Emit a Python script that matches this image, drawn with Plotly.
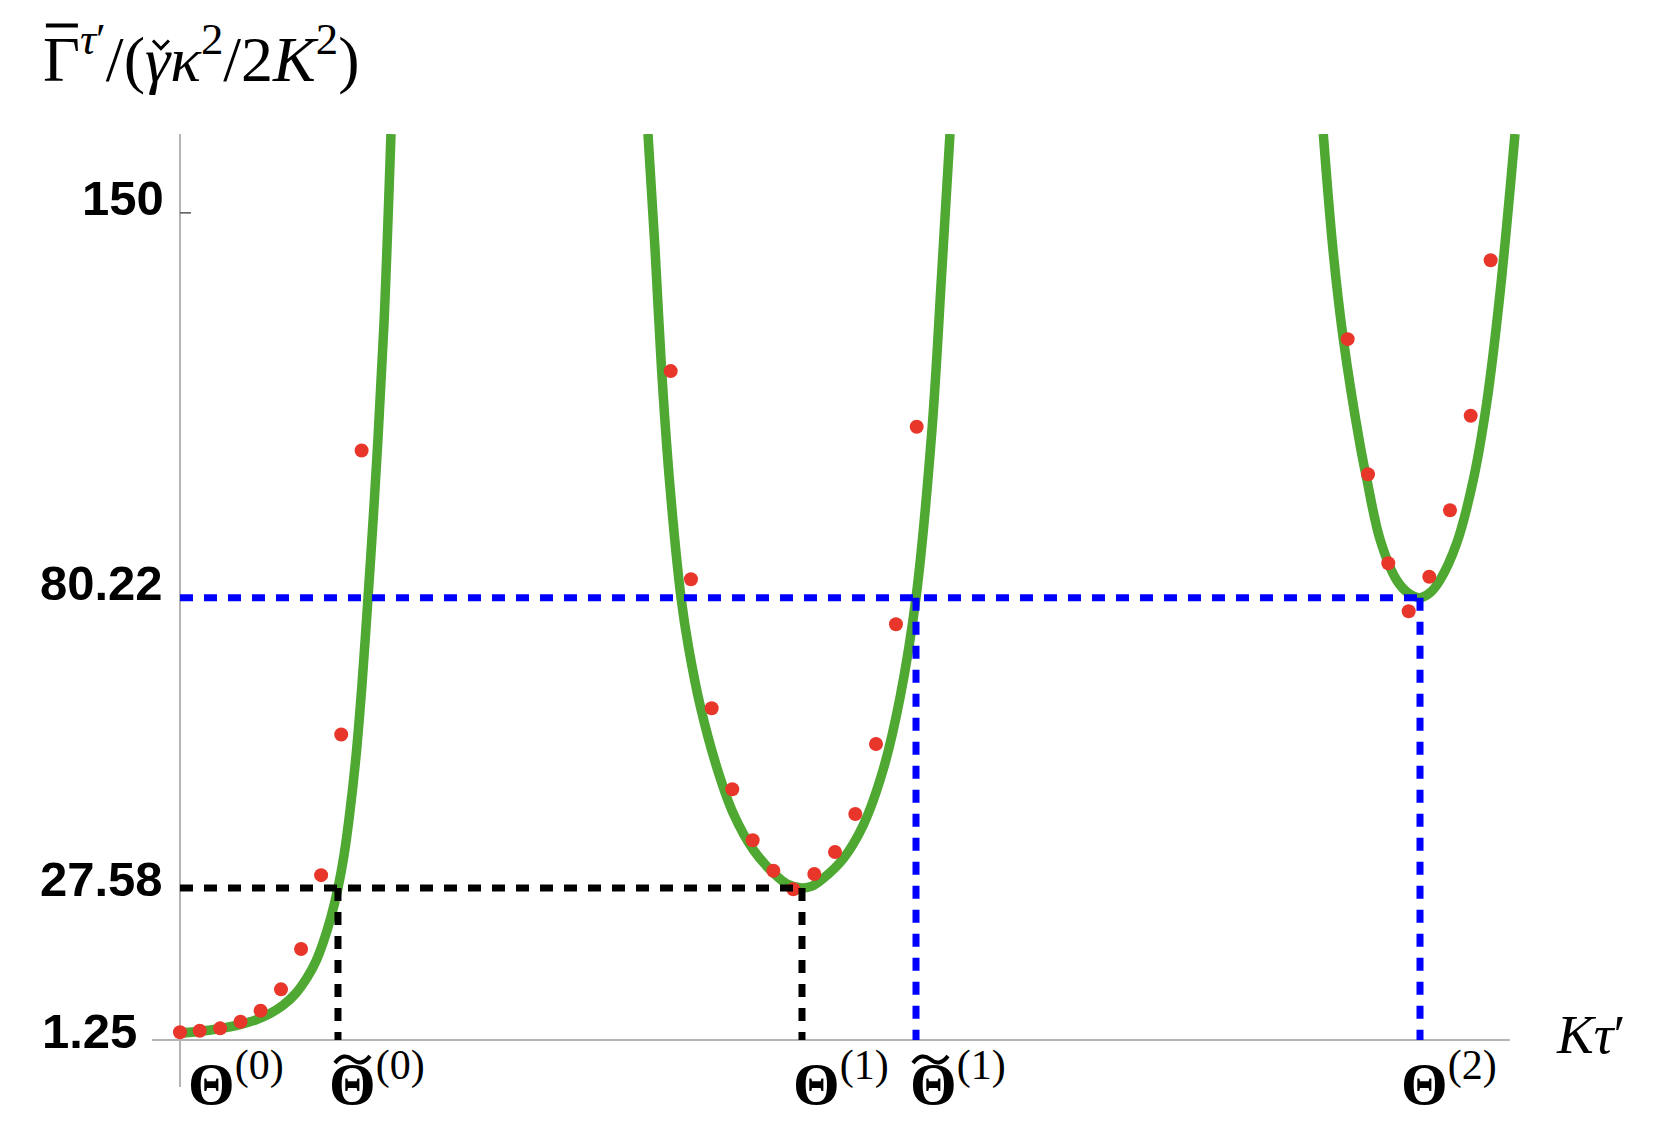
import plotly.graph_objects as go

# green curve, three branches (x in units where Theta(1) = 1)
branch_a_x = [0.0, 0.0322, 0.0643, 0.0965, 0.1206, 0.1447, 0.1656, 0.1849, 0.2042, 0.2186, 0.2299,
              0.2428, 0.2540, 0.2637, 0.2733, 0.2830, 0.2926, 0.3023, 0.3103, 0.3183, 0.3280, 0.3392]
branch_a_y = [1.25, 1.6, 2.1, 2.8, 3.6, 4.8, 6.3, 8.3, 11.3, 14.3, 17.6,
              22.3, 27.58, 33.5, 41.5, 51.5, 64.5, 80.22, 94.0, 109.0, 130.0, 164.3]

branch_b_x = [0.7524, 0.7637, 0.7744, 0.7878, 0.8055, 0.8175, 0.8368, 0.8629, 0.8895, 0.9217, 0.9539,
              0.9759, 1.0, 1.0161, 1.0342, 1.0664, 1.0986, 1.1307, 1.1576, 1.1833, 1.2085, 1.2246, 1.2379]
branch_b_y = [164.3, 143.5, 121.3, 100.3, 80.22, 71.3, 60.4, 49.5, 41.1, 34.5, 30.3,
              28.3, 27.58, 27.9, 29.3, 32.9, 39.0, 49.1, 62.1, 80.22, 110.0, 139.0, 164.3]

branch_c_x = [1.8381, 1.8542, 1.8703, 1.8971, 1.9079, 1.9293, 1.9561, 1.9743, 1.9936,
              2.0096, 2.0257, 2.0526, 2.0793, 2.1008, 2.1222, 2.1463]
branch_c_y = [164.3, 142.7, 127.1, 108.0, 101.8, 90.8, 83.4, 81.1, 80.22,
              81.1, 83.4, 90.1, 101.6, 115.5, 135.4, 164.3]

# red points
dots_x = [0.0, 0.0317, 0.0645, 0.0973, 0.1296, 0.1624, 0.1947, 0.2269, 0.2592, 0.2920,
          0.7889, 0.8215, 0.8548, 0.8879, 0.9207, 0.9539, 0.9860, 1.0198, 1.0531, 1.0857, 1.1190, 1.1511, 1.1844,
          1.8773, 1.9100, 1.9426, 1.9754, 2.0085, 2.0418, 2.0751, 2.1072]
dots_y = [1.4, 1.69, 2.12, 3.32, 5.31, 9.19, 16.5, 29.9, 55.39, 106.9,
          121.3, 83.55, 60.16, 45.47, 36.22, 30.70, 27.33, 30.10, 34.10, 40.99, 53.68, 75.39, 111.2,
          127.1, 102.6, 86.45, 77.75, 84.02, 96.06, 113.2, 141.4]

# marked levels and abscissae: Theta(0), ~Theta(0), Theta(1), ~Theta(1), Theta(2)
low_level = 27.58
high_level = 80.22
theta_x = [0.0, 0.254, 1.0, 1.1833, 1.9936]
theta_sup = ["(0)", "(0)", "(1)", "(1)", "(2)"]
theta_tilde = [False, True, False, True, False]

y_tick_vals = [1.25, 27.58, 80.22, 150]
y_tick_text = ["1.25", "27.58", "80.22", "150"]

X_RANGE = [-0.045, 2.1624]
Y_RANGE = [-8.52, 164.3]
X_AXIS_END = 2.138

GREEN = "#4ea832"
RED = "#e8362a"
AXIS_GRAY = "#b4b4b4"
DASH = "13px,11px"
SERIF = "Liberation Serif, Times New Roman, serif"

fig = go.Figure()

for bx, by in [(branch_a_x, branch_a_y), (branch_b_x, branch_b_y), (branch_c_x, branch_c_y)]:
    fig.add_trace(go.Scatter(x=bx, y=by, mode="lines",
                             line=dict(color=GREEN, width=9.5, shape="spline", smoothing=1.0),
                             showlegend=False, hoverinfo="skip"))

fig.add_trace(go.Scatter(x=dots_x, y=dots_y, mode="markers",
                         marker=dict(color=RED, size=14, line=dict(width=0)),
                         showlegend=False))

# dashed guide lines
guides = [
    ([0, theta_x[2]], [low_level, low_level], "black"),
    ([theta_x[1], theta_x[1]], [low_level, 0], "black"),
    ([theta_x[2], theta_x[2]], [low_level, 0], "black"),
    ([0, theta_x[4]], [high_level, high_level], "blue"),
    ([theta_x[3], theta_x[3]], [high_level, 0], "blue"),
    ([theta_x[4], theta_x[4]], [high_level, 0], "blue"),
]
for gx, gy, col in guides:
    fig.add_trace(go.Scatter(x=gx, y=gy, mode="lines",
                             line=dict(color=col, width=7, dash=DASH),
                             showlegend=False, hoverinfo="skip"))

# axes drawn Mathematica style, crossing at the origin
fig.add_shape(type="line", xref="x", yref="y domain", x0=0, x1=0, y0=0, y1=1,
              line=dict(color=AXIS_GRAY, width=2), layer="below")
fig.add_shape(type="line", xref="x", yref="y", x0=X_RANGE[0], x1=X_AXIS_END, y0=0, y1=0,
              line=dict(color=AXIS_GRAY, width=2), layer="below")
fig.add_shape(type="line", xref="x", yref="y", xsizemode="pixel", xanchor=0,
              x0=0, x1=11, y0=150, y1=150, line=dict(color="#555555", width=1.5))

# y tick labels
nudges = [(-41, 2), (-15, 9), (-15, 15), (-14, 15)]
for val, txt, (dx, dy) in zip(y_tick_vals, y_tick_text, nudges):
    fig.add_annotation(x=0, y=val, xref="x", yref="y", text=txt, showarrow=False,
                       xanchor="right", yanchor="middle", xshift=dx, yshift=dy,
                       font=dict(family="Liberation Sans, Arial", size=49, color="black", weight=700))

# x tick labels (the tilde is drawn as a small path over the Theta)
x_nudges = [6, -11, -11, -8, -21]
for val, sup, tilde, dx in zip(theta_x, theta_sup, theta_tilde, x_nudges):
    fig.add_annotation(x=val, y=0, xref="x", yref="y", text="<b>Θ</b><sup>" + sup + "</sup>",
                       showarrow=False, xanchor="left", yanchor="top", xshift=dx, yshift=0,
                       font=dict(family=SERIF, size=60, color="black"))
    if tilde:
        fig.add_shape(type="path", xref="x", yref="y", xsizemode="pixel", ysizemode="pixel",
                      xanchor=val, yanchor=0,
                      path="M -3,-23 C 3,-15 9,-15 14,-19 C 20,-24 26,-24 32,-16",
                      line=dict(color="black", width=4))

# axis titles
title_x, title_y = -0.0809, 1.0834
fig.add_annotation(x=title_x, y=title_y, xref="paper", yref="paper", xanchor="left", yanchor="middle",
                   text="Γ<sup><i>τ</i>′</sup>/(<i>γκ</i><sup>2</sup>/2<i>K</i><sup>2</sup>)",
                   showarrow=False, font=dict(family=SERIF, size=64, color="black"))
# bar over Gamma and caron over gamma
fig.add_shape(type="line", xref="paper", yref="paper", xsizemode="pixel", ysizemode="pixel",
              xanchor=title_x, yanchor=title_y, x0=5, x1=37, y0=29, y1=29,
              line=dict(color="black", width=4))
fig.add_shape(type="path", xref="paper", yref="paper", xsizemode="pixel", ysizemode="pixel",
              xanchor=title_x, yanchor=title_y, path="M 112,14 L 120,6 L 128,14",
              line=dict(color="black", width=3))

fig.add_annotation(x=1.021, y=0.055, xref="paper", yref="paper", xanchor="left", yanchor="middle",
                   text="<i>Kτ</i>′", showarrow=False, font=dict(family=SERIF, size=55, color="black"))

# page body adds an 8px margin, so the figure is drawn 16px smaller than the window
fig.update_layout(
    width=1646, height=1122,
    margin=dict(l=144, r=129, t=126, b=43),
    plot_bgcolor="white", paper_bgcolor="white",
    xaxis=dict(range=X_RANGE, showgrid=False, zeroline=False, showticklabels=False, showline=False),
    yaxis=dict(range=Y_RANGE, showgrid=False, zeroline=False, showticklabels=False, showline=False),
)

fig.write_html("out.html")
